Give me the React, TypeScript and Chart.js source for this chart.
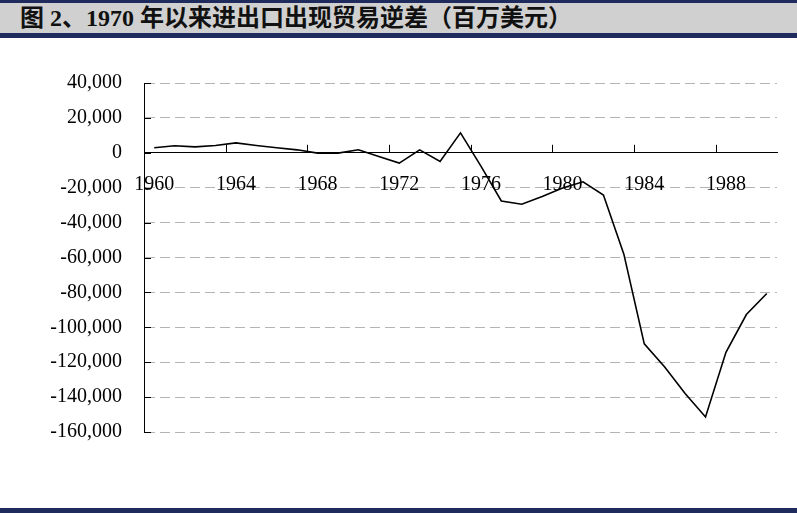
import React, { useEffect, useRef } from "react";
import { Chart, registerables } from "chart.js";

Chart.register(...registerables);

const titleText = "图 2、1970 年以来进出口出现贸易逆差（百万美元）";

const years = [
  "1960", "1961", "1962", "1963", "1964", "1965", "1966", "1967", "1968", "1969",
  "1970", "1971", "1972", "1973", "1974", "1975", "1976", "1977", "1978", "1979",
  "1980", "1981", "1982", "1983", "1984", "1985", "1986", "1987", "1988", "1989", "1990",
];

const tradeBalance = [
  2900, 4000, 3400, 4200, 5700, 4200, 2900, 1700, -200, -200,
  1700, -2100, -5900, 1700, -5000, 11400, -7600, -27600, -29500, -25000,
  -20200, -16600, -24200, -58100, -109500, -122800, -138000, -151400, -114300, -92700, -80600,
];

const yMin = -160000;
const yMax = 40000;
const yStep = 20000;
const xLabelEvery = 4;

const navy = "#1f2b5c";
const tickFont = { family: "'Liberation Serif', 'Times New Roman', serif", size: 20 };

const tickMarksPlugin = {
  id: "tickMarks",
  afterDraw(chart: any) {
    const xs = chart.scales.x;
    const ys = chart.scales.y;
    const ctx = chart.ctx;
    const zeroY = ys.getPixelForValue(0);
    ctx.save();
    ctx.strokeStyle = "#000";
    ctx.lineWidth = 1;
    ctx.beginPath();
    for (let i = xLabelEvery; i < years.length; i += xLabelEvery) {
      const x = Math.round((xs.getPixelForValue(i - 1) + xs.getPixelForValue(i)) / 2) + 0.5;
      ctx.moveTo(x, zeroY);
      ctx.lineTo(x, zeroY - 8);
    }
    ys.ticks.forEach((t: any) => {
      const y = Math.round(ys.getPixelForValue(t.value)) + 0.5;
      ctx.moveTo(ys.right, y);
      ctx.lineTo(ys.right + 7, y);
    });
    ctx.stroke();
    ctx.restore();
  },
};

export default function App() {
  const canvasRef = useRef<HTMLCanvasElement | null>(null);

  useEffect(() => {
    if (!canvasRef.current) return;
    const chart = new Chart(canvasRef.current, {
      type: "line",
      data: {
        labels: years,
        datasets: [
          {
            data: tradeBalance,
            borderColor: "#000",
            borderWidth: 1.6,
            pointRadius: 0,
            tension: 0,
            fill: false,
          },
        ],
      },
      options: {
        animation: false,
        responsive: true,
        maintainAspectRatio: false,
        layout: { padding: { top: 83, right: 20, bottom: 81, left: 0 } },
        plugins: { legend: { display: false }, tooltip: { enabled: false } },
        scales: {
          x: {
            type: "category",
            position: { y: 0 } as any,
            offset: true,
            grid: { display: true, drawOnChartArea: false, drawTicks: false, offset: true },
            border: { display: true, color: "#000", width: 1 },
            ticks: {
              autoSkip: false,
              maxRotation: 0,
              padding: 20,
              color: "#000",
              font: tickFont,
              callback: (_v: any, i: number) => (i % xLabelEvery === 0 ? years[i] : ""),
            },
          },
          y: {
            min: yMin,
            max: yMax,
            afterFit: (s: any) => {
              s.width = 144;
            },
            grid: {
              drawTicks: false,
              lineWidth: 1,
              color: (c: any) => (c.tick && c.tick.value === 0 ? "rgba(0,0,0,0)" : "#b4b4b4"),
            },
            border: { display: true, color: "#000", width: 1, dash: [10, 5] },
            ticks: {
              stepSize: yStep,
              padding: 22,
              color: "#000",
              font: tickFont,
              callback: (v: any) => Number(v).toLocaleString("en-US"),
            },
          },
        },
      },
      plugins: [tickMarksPlugin],
    });
    return () => chart.destroy();
  }, []);

  return (
    <div style={{ position: "absolute", left: 0, top: 0, width: 797, height: 513, background: "#fff", overflow: "hidden" }}>
      <div style={{ position: "absolute", left: 0, top: 0, width: 797, height: 3, background: navy }} />
      <div
        style={{
          position: "absolute",
          left: 0,
          top: 3,
          width: 797,
          height: 30,
          background: "#d0d0d0",
          display: "flex",
          alignItems: "center",
        }}
      >
        <span
          style={{
            marginLeft: 20,
            fontFamily: "'Liberation Serif', 'Noto Sans CJK SC', serif",
            fontWeight: 700,
            fontSize: 24,
            color: "#111",
            whiteSpace: "nowrap",
            lineHeight: "30px",
          }}
        >
          {titleText}
        </span>
      </div>
      <div style={{ position: "absolute", left: 0, top: 33, width: 797, height: 5, background: navy }} />
      <div style={{ position: "absolute", left: 0, top: 0, width: 797, height: 513 }}>
        <canvas ref={canvasRef} />
      </div>
      <div style={{ position: "absolute", left: 0, top: 508, width: 797, height: 5, background: navy }} />
    </div>
  );
}
